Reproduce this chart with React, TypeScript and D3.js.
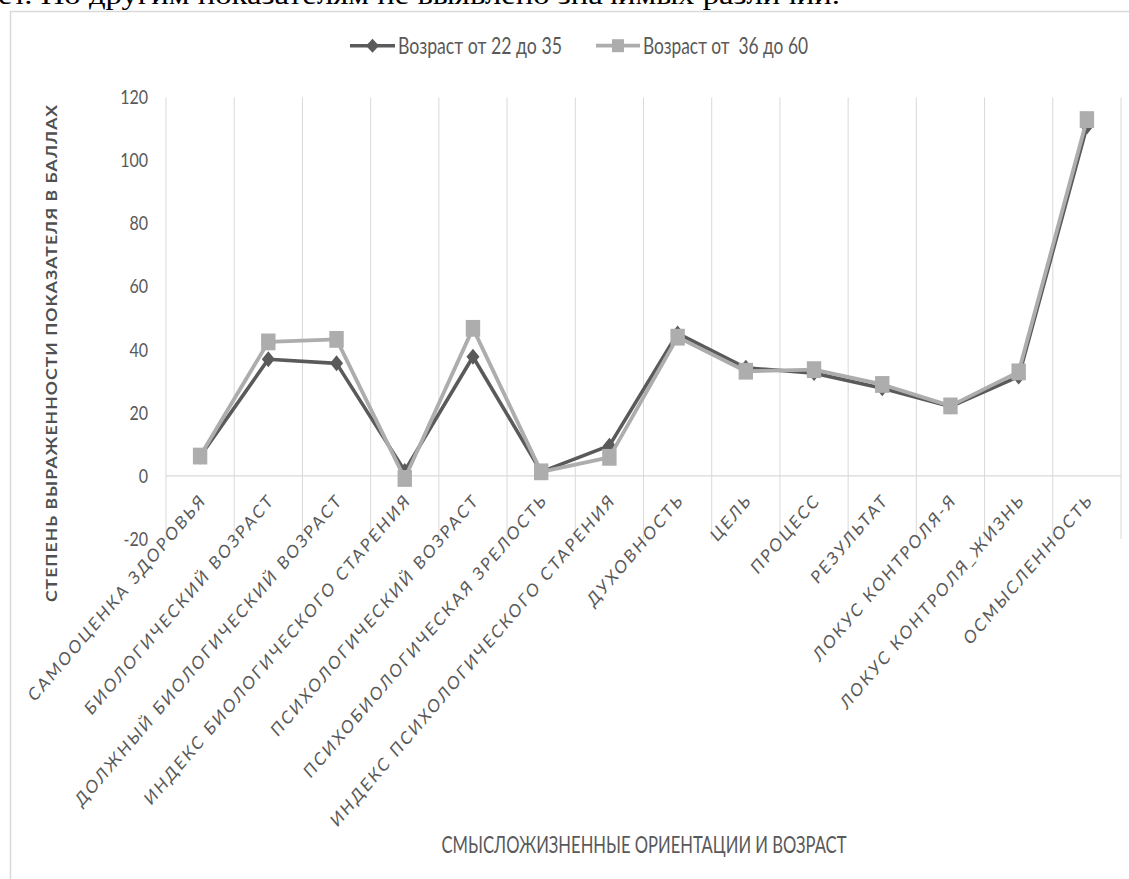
import React from "react";
import * as d3 from "d3";

const categories: string[] = [
  "САМООЦЕНКА ЗДОРОВЬЯ",
  "БИОЛОГИЧЕСКИЙ ВОЗРАСТ",
  "ДОЛЖНЫЙ БИОЛОГИЧЕСКИЙ ВОЗРАСТ",
  "ИНДЕКС БИОЛОГИЧЕСКОГО СТАРЕНИЯ",
  "ПСИХОЛОГИЧЕСКИЙ ВОЗРАСТ",
  "ПСИХОБИОЛОГИЧЕСКАЯ ЗРЕЛОСТЬ",
  "ИНДЕКС ПСИХОЛОГИЧЕСКОГО СТАРЕНИЯ",
  "ДУХОВНОСТЬ",
  "ЦЕЛЬ",
  "ПРОЦЕСС",
  "РЕЗУЛЬТАТ",
  "ЛОКУС КОНТРОЛЯ-Я",
  "ЛОКУС КОНТРОЛЯ_ЖИЗНЬ",
  "ОСМЫСЛЕННОСТЬ",
];

const seriesYoung: number[] = [6.2, 37.0, 35.7, 1.6, 37.8, 1.3, 9.6, 45.2, 34.3, 32.6, 27.8, 22.0, 31.5, 110.8];
const seriesOld: number[] = [6.3, 42.5, 43.3, -0.8, 46.8, 1.3, 5.9, 44.0, 33.2, 33.7, 29.0, 22.2, 33.0, 113.0];

const seriesNames: string[] = ["Возраст от 22 до 35", "Возраст от  36 до 60"];
const yTickValues: number[] = [-20, 0, 20, 40, 60, 80, 100, 120];
const yTitle = "СТЕПЕНЬ ВЫРАЖЕННОСТИ ПОКАЗАТЕЛЯ В БАЛЛАХ";
const xTitle = "СМЫСЛОЖИЗНЕННЫЕ ОРИЕНТАЦИИ И ВОЗРАСТ";
const topText = "ет. По другим показателям не выявлено значимых различий.";

const W = 1129;
const H = 879;
const SY = 1.17; // vertical stretch of the original picture
const FONT = "Lato, 'Open Sans', sans-serif";
const DARK = "#5a5a5a";
const LIGHT = "#adadad";
const GRID = "#d9d9d9";
const TXT = "#595959";

export default function App() {
  const x = d3.scaleBand<string>().domain(categories).range([166, 1121]).paddingInner(0).paddingOuter(0);
  const y = d3.scaleLinear().domain([-20, 120]).range([539, 97.5]);
  const cx = (i: number) => (x(categories[i]) as number) + x.bandwidth() / 2;

  const line = d3
    .line<number>()
    .x((_, i) => cx(i))
    .y((d) => y(d));

  const boundaries = categories.map((c) => x(c) as number).concat([x.range()[1]]);

  const diamond = (px: number, py: number, hw: number, hh: number) =>
    `M${px},${py - hh}L${px + hw},${py}L${px},${py + hh}L${px - hw},${py}Z`;

  return (
    <div style={{ position: "absolute", left: 0, top: 0, width: W, height: H, overflow: "hidden", background: "#fff" }}>
      <svg width={W} height={H} style={{ display: "block" }}>
        <rect x={0} y={0} width={W} height={H} fill="#fff" />
        {/* clipped text from the page above */}
        <text
          x={-2}
          y={4}
          fontFamily="'Liberation Serif', 'Times New Roman', serif"
          fontSize={28}
          fill="#000"
          textLength={842}
          lengthAdjust="spacingAndGlyphs"
        >
          {topText}
        </text>
        {/* chart area border */}
        <rect x={10.5} y={11.5} width={W + 20} height={H + 20} fill="#fff" stroke={GRID} strokeWidth={1.5} />

        {/* vertical gridlines */}
        {boundaries.map((b, i) => (
          <line key={"g" + i} x1={b} x2={b} y1={y(120)} y2={y(-20)} stroke={GRID} strokeWidth={1} />
        ))}
        {/* category axis at zero */}
        <line x1={x.range()[0]} x2={x.range()[1]} y1={y(0)} y2={y(0)} stroke={GRID} strokeWidth={1.2} />

        {/* y tick labels */}
        {yTickValues.map((v) => (
          <text
            key={"yt" + v}
            transform={`translate(148,${y(v)}) scale(1,${SY})`}
            dy="0.36em"
            textAnchor="end"
            fontFamily={FONT}
            fontSize={16}
            fill={TXT}
          >
            {v}
          </text>
        ))}

        {/* y title */}
        <text
          transform={`translate(57,${353.5}) scale(1,${SY}) rotate(-90)`}
          textAnchor="middle"
          fontFamily={FONT}
          fontSize={15}
          fontWeight={700}
          fill="#505050"
          textLength={425}
          lengthAdjust="spacing"
        >
          {yTitle}
        </text>

        {/* category labels */}
        {categories.map((c, i) => (
          <text
            key={"cl" + i}
            transform={`translate(${cx(i) + 7},${501}) scale(1,${SY}) rotate(-45)`}
            textAnchor="end"
            fontFamily={FONT}
            fontSize={15.5}
            letterSpacing={2.2}
            fill={TXT}
          >
            {c}
          </text>
        ))}

        {/* x title */}
        <text
          transform={`translate(644,853) scale(1,${SY})`}
          textAnchor="middle"
          fontFamily={FONT}
          fontSize={19}
          fill={TXT}
          textLength={405}
          lengthAdjust="spacingAndGlyphs"
        >
          {xTitle}
        </text>

        {/* series: young (dark, diamonds) */}
        <path d={line(seriesYoung) || ""} fill="none" stroke={DARK} strokeWidth={3.6} strokeLinejoin="round" />
        {seriesYoung.map((v, i) => (
          <path key={"d" + i} d={diamond(cx(i), y(v), 6.5, 8)} fill={DARK} />
        ))}

        {/* series: old (light, squares) */}
        <path d={line(seriesOld) || ""} fill="none" stroke={LIGHT} strokeWidth={3.8} strokeLinejoin="round" />
        {seriesOld.map((v, i) => (
          <rect key={"s" + i} x={cx(i) - 7.2} y={y(v) - 8.4} width={14.4} height={16.8} fill={LIGHT} />
        ))}

        {/* legend */}
        <g>
          <line x1={350} x2={395} y1={45.7} y2={45.7} stroke={DARK} strokeWidth={3.6} />
          <path d={diamond(372.5, 45.7, 6.5, 7)} fill={DARK} />
          <text
            transform={`translate(398,54) scale(1,${SY})`}
            fontFamily={FONT}
            fontSize={19}
            fill={TXT}
            textLength={164}
            lengthAdjust="spacingAndGlyphs"
            style={{ whiteSpace: "pre" }}
          >
            {seriesNames[0]}
          </text>
          <line x1={596} x2={640} y1={45.7} y2={45.7} stroke={LIGHT} strokeWidth={3.8} />
          <rect x={618 - 6} y={45.7 - 6.5} width={12} height={13} fill={LIGHT} />
          <text
            transform={`translate(643,54) scale(1,${SY})`}
            fontFamily={FONT}
            fontSize={19}
            fill={TXT}
            textLength={165}
            lengthAdjust="spacingAndGlyphs"
            style={{ whiteSpace: "pre" }}
          >
            {seriesNames[1]}
          </text>
        </g>
      </svg>
    </div>
  );
}
